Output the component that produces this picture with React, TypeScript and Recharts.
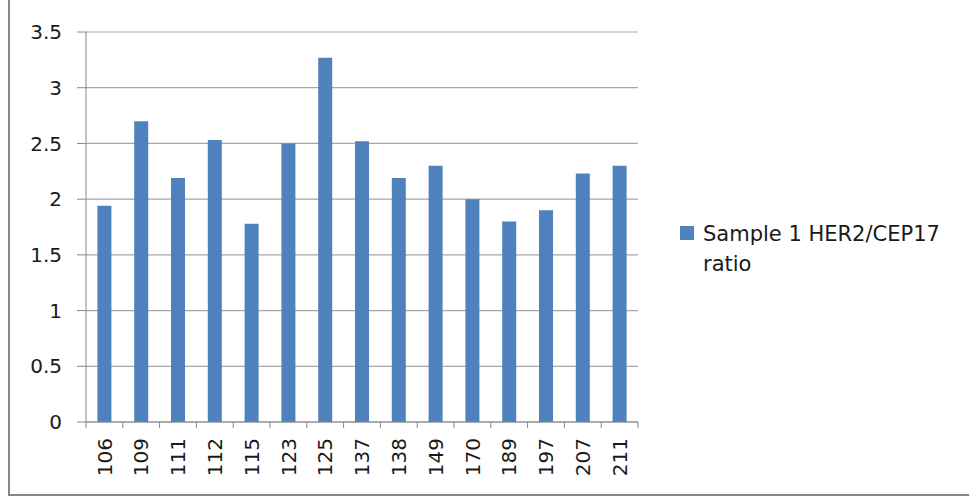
import { Bar, BarChart, CartesianGrid, Legend, XAxis, YAxis } from "recharts";

const categories = ["106", "109", "111", "112", "115", "123", "125", "137", "138", "149", "170", "189", "197", "207", "211"];
const ratioValues = [1.94, 2.7, 2.19, 2.53, 1.78, 2.5, 3.27, 2.52, 2.19, 2.3, 2.0, 1.8, 1.9, 2.23, 2.3];
const yTicks = [0, 0.5, 1, 1.5, 2, 2.5, 3, 3.5];
const seriesName = "Sample 1 HER2/CEP17 ratio";

const data = categories.map((sample, i) => ({ sample, ratio: ratioValues[i] }));

const WIDTH = 969;
const HEIGHT = 496;
const PLOT_LEFT = 86;
const PLOT_RIGHT = 638;
const PLOT_TOP = 32;
const PLOT_BOTTOM = 422;
const FONT = "'DejaVu Sans', sans-serif";
const TEXT = "#1a1a1a";
const AXIS = "#868686";
const GRID = "#a6a6a6";
const BLUE = "#4f81bd";

// excel-style ticks: marks sit between categories, labels rotated
function CategoryTick(props: any) {
  const { x, payload, index } = props;
  const half = (PLOT_RIGHT - PLOT_LEFT) / categories.length / 2;
  const ty = PLOT_BOTTOM + 16;
  return (
    <g>
      <line x1={x - half} x2={x - half} y1={PLOT_BOTTOM} y2={PLOT_BOTTOM + 6} stroke={AXIS} />
      {index === categories.length - 1 && (
        <line x1={x + half} x2={x + half} y1={PLOT_BOTTOM} y2={PLOT_BOTTOM + 6} stroke={AXIS} />
      )}
      <text
        x={x}
        y={ty}
        dy="0.36em"
        textAnchor="end"
        transform={`rotate(-90 ${x} ${ty})`}
        fill={TEXT}
        fontSize={20}
        fontFamily={FONT}
      >
        {payload.value}
      </text>
    </g>
  );
}

function LegendBox() {
  return (
    <div style={{ display: "flex", alignItems: "flex-start", fontFamily: FONT, fontSize: 21, lineHeight: "30px", color: TEXT }}>
      <span style={{ width: 14, height: 14, background: BLUE, marginTop: 7, marginRight: 9, flex: "none" }} />
      <span>
        Sample 1 HER2/CEP17
        <br />
        ratio
      </span>
    </div>
  );
}

export default function App() {
  return (
    <div style={{ position: "absolute", left: 0, top: 0, width: WIDTH, height: HEIGHT, background: "#fff" }}>
      <div
        style={{
          position: "absolute",
          left: 8,
          top: 0,
          width: WIDTH - 10,
          height: HEIGHT - 2,
          borderLeft: `2px solid ${AXIS}`,
          borderRight: `2px solid ${AXIS}`,
          borderBottom: `2px solid ${AXIS}`,
          boxSizing: "content-box",
        }}
      />
      <BarChart
        width={WIDTH}
        height={HEIGHT}
        data={data}
        margin={{ top: PLOT_TOP, right: WIDTH - PLOT_RIGHT, bottom: 14, left: 0 }}
        barCategoryGap="31%"
        style={{ position: "absolute", left: 0, top: 0 }}
      >
        <CartesianGrid vertical={false} stroke={GRID} strokeWidth={1.2} />
        <XAxis
          dataKey="sample"
          height={HEIGHT - PLOT_BOTTOM - 14}
          axisLine={{ stroke: AXIS }}
          tickLine={false}
          tick={<CategoryTick />}
          interval={0}
        />
        <YAxis
          width={PLOT_LEFT}
          domain={[0, 3.5]}
          ticks={yTicks}
          axisLine={{ stroke: AXIS }}
          tickLine={{ stroke: AXIS }}
          tickSize={9}
          tickMargin={15}
          tick={{ fill: TEXT, fontSize: 20, fontFamily: FONT }}
        />
        <Legend
          layout="vertical"
          align="center"
          verticalAlign="middle"
          wrapperStyle={{ left: 680, top: 219, width: 280 }}
          content={() => <LegendBox />}
        />
        <Bar dataKey="ratio" name={seriesName} fill={BLUE} isAnimationActive={false} />
      </BarChart>
    </div>
  );
}
